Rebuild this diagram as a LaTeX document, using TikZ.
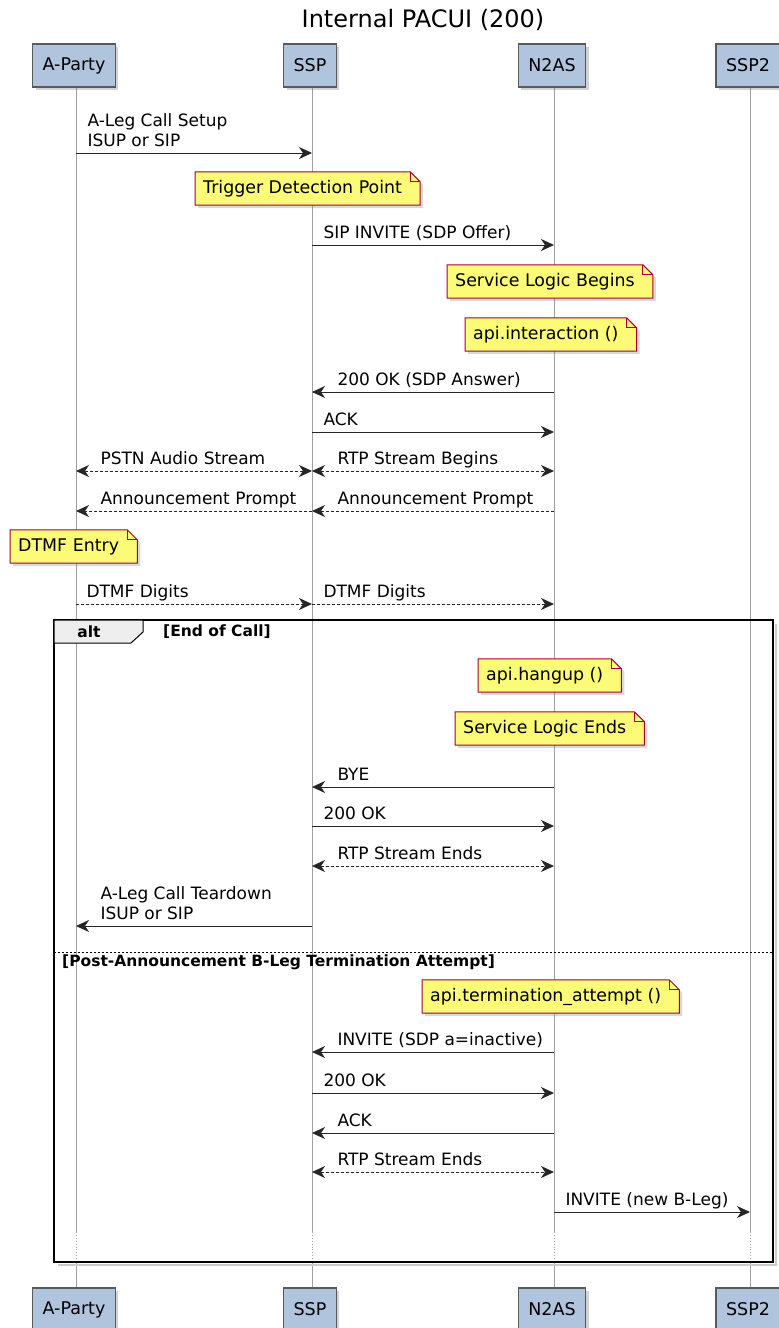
\documentclass[tikz,border=0pt]{standalone}
\usepackage{fontspec}
\setmainfont{DejaVu Sans}
\usetikzlibrary{arrows.meta, shadows, calc}

\definecolor{partfill}{HTML}{B0C4DE}
\definecolor{partline}{HTML}{5A5A5A}
\definecolor{notefill}{HTML}{FBFB77}
\definecolor{noteline}{HTML}{A80036}
\definecolor{lifegray}{HTML}{A0A0A0}
\definecolor{tabgray}{HTML}{EEEEEE}

\pgfdeclarelayer{background}
\pgfsetlayers{background,main}

\tikzset{
    party/.style={draw=partline, fill=partfill, line width=1.2pt, minimum height=43pt,
        inner xsep=10pt, font=\fontsize{17.5}{21}\selectfont,
        drop shadow={shadow xshift=3pt, shadow yshift=-3pt, opacity=0.35}},
    lifeline/.style={draw=lifegray, line width=0.9pt},
    >={Stealth[length=13pt, width=12pt, inset=4pt]},
    msg/.style={draw=black!85, line width=1pt, ->},
    dmsg/.style={msg, dash pattern=on 3pt off 2pt},
    bimsg/.style={dmsg, <->},
    lbl/.style={inner sep=0pt, anchor=south west, align=left,
        font=\fontsize{17}{20}\selectfont, execute at end node=\strut},
    notetext/.style={inner xsep=8pt, inner ysep=0pt, minimum height=33pt, anchor=west,
        font=\fontsize{17.4}{20}\selectfont},
    notebox/.style={draw=noteline, fill=notefill, line width=1pt,
        drop shadow={shadow xshift=3pt, shadow yshift=-3pt, opacity=0.3}},
    guard/.style={inner sep=0pt, anchor=west, font=\fontsize{15.5}{18}\bfseries},
}

% note with folded corner: name, left x, middle y, text
\newcommand{\seqnote}[4]{%
    \node[notetext] (#1) at (#2,#3) {#4};
    \begin{pgfonlayer}{background}
        \draw[notebox] (#1.north west) -- ([xshift=0pt]#1.north east)
            -- ([xshift=10pt, yshift=-10pt]#1.north east) -- ([xshift=10pt]#1.south east)
            -- (#1.south west) -- cycle;
        \draw[noteline, line width=1pt] ([xshift=0pt]#1.north east)
            -- ([yshift=-10pt]#1.north east) -- ([xshift=10pt, yshift=-10pt]#1.north east);
    \end{pgfonlayer}
}

\begin{document}
\begin{tikzpicture}[x=1pt, y=-1pt]
    \useasboundingbox (0,0) rectangle (779,1328);

    \node[font=\fontsize{24}{28}\selectfont] (title) at (423,20) {Internal PACUI (200)};

    % participants, top and bottom
    \node[party] (ap)  at (74,65.5)  {A-Party};
    \node[party] (ssp) at (310,65.5) {SSP};
    \node[party] (nas) at (552,65.5) {N2AS};
    \node[party] (sspb) at (748,65.5) {SSP2};
    \node[party] (ap-b)  at (74,1309.5)  {A-Party};
    \node[party] (ssp-b) at (310,1309.5) {SSP};
    \node[party] (nas-b) at (552,1309.5) {N2AS};
    \node[party] (sspb-b) at (748,1309.5) {SSP2};

    % lifelines
    \begin{pgfonlayer}{background}
    \foreach \p in {ap, ssp, nas, sspb} {
        \draw[lifeline] ([xshift=2pt]\p.south) -- ([xshift=2pt]\p |- 0,1232);
        \draw[lifeline, dotted] ([xshift=2pt]\p |- 0,1232) -- ([xshift=2pt]\p |- 0,1262);
        \draw[lifeline] ([xshift=2pt]\p |- 0,1262) -- ([xshift=2pt]\p-b.north);
    }
    \end{pgfonlayer}

    % call setup
    \draw[msg] ([xshift=2pt]ap |- 0,153) -- ([xshift=2pt]ssp |- 0,153) node[lbl, pos=0, xshift=11pt] {A-Leg Call Setup\\ISUP or SIP};
    \seqnote{tdp}{195}{188.5}{Trigger Detection Point}
    \draw[msg] ([xshift=2pt]ssp |- 0,245) -- ([xshift=2pt]nas |- 0,245) node[lbl, pos=0, xshift=11pt] {SIP INVITE (SDP Offer)};
    \seqnote{slb}{447}{281.5}{Service Logic Begins}
    \seqnote{apii}{465}{334.5}{api.interaction ()}
    \draw[msg] ([xshift=2pt]nas |- 0,392) -- ([xshift=2pt]ssp |- 0,392) node[lbl, pos=1, xshift=25pt] {200 OK (SDP Answer)};
    \draw[msg] ([xshift=2pt]ssp |- 0,432) -- ([xshift=2pt]nas |- 0,432) node[lbl, pos=0, xshift=11pt] {ACK};
    \draw[bimsg] ([xshift=2pt]ap |- 0,471) -- ([xshift=2pt]ssp |- 0,471) node[lbl, pos=0, xshift=24pt] {PSTN Audio Stream};
    \draw[bimsg] ([xshift=2pt]ssp |- 0,471) -- ([xshift=2pt]nas |- 0,471) node[lbl, pos=0, xshift=25pt] {RTP Stream Begins};
    \draw[dmsg] ([xshift=2pt]ssp |- 0,511) -- ([xshift=2pt]ap |- 0,511) node[lbl, pos=1, xshift=24pt] {Announcement Prompt};
    \draw[dmsg] ([xshift=2pt]nas |- 0,511) -- ([xshift=2pt]ssp |- 0,511) node[lbl, pos=1, xshift=25pt] {Announcement Prompt};
    \seqnote{dtmf}{10}{546.5}{DTMF Entry}
    \draw[dmsg] ([xshift=2pt]ap |- 0,604) -- ([xshift=2pt]ssp |- 0,604) node[lbl, pos=0, xshift=10pt] {DTMF Digits};
    \draw[dmsg] ([xshift=2pt]ssp |- 0,604) -- ([xshift=2pt]nas |- 0,604) node[lbl, pos=0, xshift=11pt] {DTMF Digits};

    % alt frame
    \draw[black!20, line width=2pt] (776,624) -- (776,1265) -- (58,1265);
    \draw[line width=1.8pt] (54,620) rectangle (773,1262);
    \draw[fill=tabgray, line width=1pt] (54,620) -- (143,620) -- (143,632) -- (131,643) -- (54,643) -- cycle;
    \node[guard, anchor=center] (alt) at (89,632) {alt};
    \node[guard] (endcall) at (163,632) {[End of Call]};

    \seqnote{hang}{478}{675.5}{api.hangup ()}
    \seqnote{sle}{455}{728.5}{Service Logic Ends}
    \draw[msg] ([xshift=2pt]nas |- 0,787) -- ([xshift=2pt]ssp |- 0,787) node[lbl, pos=1, xshift=25pt] {BYE};
    \draw[msg] ([xshift=2pt]ssp |- 0,826) -- ([xshift=2pt]nas |- 0,826) node[lbl, pos=0, xshift=11pt] {200 OK};
    \draw[bimsg] ([xshift=2pt]ssp |- 0,866) -- ([xshift=2pt]nas |- 0,866) node[lbl, pos=0, xshift=25pt] {RTP Stream Ends};
    \draw[msg] ([xshift=2pt]ssp |- 0,926) -- ([xshift=2pt]ap |- 0,926) node[lbl, pos=1, xshift=24pt] {A-Leg Call Teardown\\ISUP or SIP};

    % else branch
    \draw[dash pattern=on 2pt off 2pt, line width=0.9pt] (54,952) -- (773,952);
    \node[guard] (postann) at (62,962) {[Post-Announcement B-Leg Termination Attempt]};

    \seqnote{term}{422}{996.5}{api.termination\_attempt ()}
    \draw[msg] ([xshift=2pt]nas |- 0,1052) -- ([xshift=2pt]ssp |- 0,1052) node[lbl, pos=1, xshift=25pt] {INVITE (SDP a=inactive)};
    \draw[msg] ([xshift=2pt]ssp |- 0,1093) -- ([xshift=2pt]nas |- 0,1093) node[lbl, pos=0, xshift=11pt] {200 OK};
    \draw[msg] ([xshift=2pt]nas |- 0,1133) -- ([xshift=2pt]ssp |- 0,1133) node[lbl, pos=1, xshift=25pt] {ACK};
    \draw[bimsg] ([xshift=2pt]ssp |- 0,1172) -- ([xshift=2pt]nas |- 0,1172) node[lbl, pos=0, xshift=25pt] {RTP Stream Ends};
    \draw[msg] ([xshift=2pt]nas |- 0,1212) -- ([xshift=2pt]sspb |- 0,1212) node[lbl, pos=0, xshift=11pt] {INVITE (new B-Leg)};
\end{tikzpicture}
\end{document}
